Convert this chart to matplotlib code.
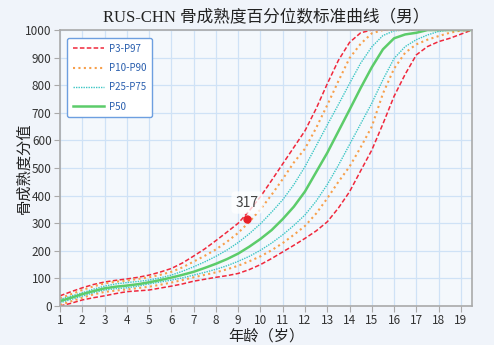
import matplotlib
matplotlib.use("Agg")
import matplotlib.pyplot as plt
import numpy as np

plt.rcParams['font.family'] = ['Noto Sans CJK SC', 'DejaVu Sans']

# ages on a half-year grid, scores read per percentile curve
ages = np.arange(1, 19.51, 0.5)

p97 = [37, 52, 66, 78, 87, 93, 98, 104, 112, 123, 136, 156, 181, 207, 237, 268, 300, 345,
       396, 455, 515, 575, 635, 715, 805, 890, 955, 990, 1000, 1000, 1000, 1000, 1000, 1000,
       1000, 1000, 1000, 1000]
p90 = [28, 43, 58, 71, 82, 88, 92, 98, 104, 113, 124, 140, 161, 182, 205, 233, 265, 305,
       350, 403, 460, 520, 570, 645, 728, 815, 898, 950, 988, 1000, 1000, 1000, 1000, 1000,
       1000, 1000, 1000, 1000]
p75 = [24, 36, 48, 61, 72, 80, 85, 89, 94, 102, 112, 126, 142, 160, 180, 203, 230, 262,
       298, 340, 385, 440, 505, 580, 656, 730, 806, 880, 939, 980, 997, 1000, 1000, 1000,
       1000, 1000, 1000, 1000]
p50 = [18, 30, 43, 54, 64, 70, 74, 79, 86, 94, 103, 113, 124, 138, 153, 170, 190, 215,
       243, 275, 315, 360, 415, 485, 555, 633, 711, 790, 865, 930, 970, 984, 990, 1000,
       1000, 1000, 1000, 1000]
p25 = [12, 24, 36, 48, 58, 63, 66, 72, 80, 87, 94, 102, 112, 122, 133, 146, 162, 180,
       202, 228, 258, 292, 330, 380, 440, 510, 585, 660, 735, 820, 897, 940, 965, 982,
       995, 1000, 1000, 1000]
p10 = [4, 17, 30, 42, 51, 56, 60, 65, 70, 77, 85, 94, 104, 113, 122, 133, 146, 162,
       180, 202, 228, 258, 290, 335, 390, 450, 505, 575, 650, 770, 860, 918, 948, 965,
       978, 990, 998, 1000]
p3 = [0, 10, 22, 30, 37, 45, 52, 55, 58, 65, 72, 80, 90, 97, 104, 110, 118, 132,
      150, 172, 196, 220, 245, 272, 305, 355, 414, 490, 565, 660, 760, 840, 910, 940,
      958, 970, 985, 1000]

point_age = 9.4
point_score = 317

red = '#f0283c'
orange = '#f7a04c'
teal = '#3cc6c4'
green = '#5ccc6a'

fig = plt.figure(figsize=(4.94, 3.45), dpi=100, facecolor='#f0f4fa')
ax = fig.add_axes([0.1215, 0.113, 0.834, 0.8])
ax.set_facecolor('#f4f8fc')

ax.plot(ages, p97, color=red, lw=1.1, ls=(0, (3, 1.5)), label='P3-P97')
ax.plot(ages, p3, color=red, lw=1.1, ls=(0, (3, 1.5)))
ax.plot(ages, p90, color=orange, lw=1.5, ls=(0, (1, 1.6)), label='P10-P90')
ax.plot(ages, p10, color=orange, lw=1.5, ls=(0, (1, 1.6)))
ax.plot(ages, p75, color=teal, lw=1.0, ls=(0, (1, 0.8)), label='P25-P75')
ax.plot(ages, p25, color=teal, lw=1.0, ls=(0, (1, 0.8)))
ax.plot(ages, p50, color=green, lw=1.8, label='P50')

ax.plot([point_age], [point_score], 'o', color='#e8202a', ms=5, zorder=5)
ax.annotate(str(point_score), (point_age, point_score), xytext=(0, 16),
            textcoords='offset pixels', ha='center', va='center', fontsize=10,
            color='#444444',
            bbox=dict(boxstyle='round,pad=0.3', fc='white', ec='none', alpha=0.75))

ax.set_xlim(1, 19.5)
ax.set_ylim(0, 1000)
ax.set_xticks(range(1, 20))
ax.set_yticks(range(0, 1001, 100))
ax.grid(True, color='#cfe2f6', lw=0.9)
ax.set_axisbelow(True)
for s in ax.spines.values():
    s.set_color('#aaaaaa')
    s.set_linewidth(1.2)
ax.tick_params(colors='#aaaaaa', labelcolor='#333333', labelsize=8.5, length=4, pad=2)

ax.set_title('RUS-CHN 骨成熟度百分位数标准曲线（男）', fontsize=12, color='#222222',
             family=['Liberation Serif', 'Noto Sans CJK SC'], pad=6)
ax.set_xlabel('年龄（岁）', fontsize=11, color='#222222')
ax.set_ylabel('骨成熟度分值', fontsize=11, color='#222222')
ax.xaxis.set_label_coords(0.5, -0.077)
ax.yaxis.set_label_coords(-0.066, 0.5)

leg = ax.legend(loc='upper left', bbox_to_anchor=(0.017, 0.971), borderaxespad=0,
                fontsize=7, handlelength=3.2, handletextpad=0.5, labelspacing=0.95,
                borderpad=0.6, fancybox=True, framealpha=1, edgecolor='#6d9fe0',
                facecolor='white')
leg.get_frame().set_linewidth(1.0)
for t in leg.get_texts():
    t.set_color('#2a5fae')

fig.savefig('out.png', dpi=100, facecolor=fig.get_facecolor())
